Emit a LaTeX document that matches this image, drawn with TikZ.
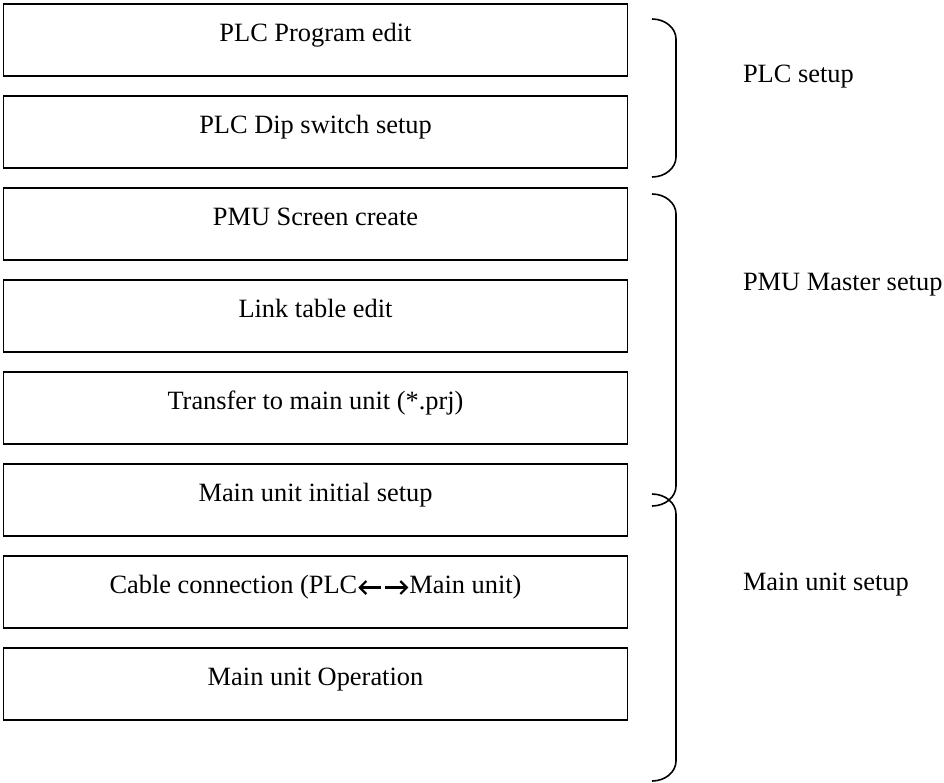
\documentclass[tikz,border=0pt]{standalone}
\usepackage{fontspec}
\setmainfont{Liberation Serif}
\newcommand\lrarrows{\tikz[baseline=0pt,x=1pt,y=1pt,line width=2.2pt]{%
  \useasboundingbox (0,0) rectangle (52,12);
  \draw (2.5,5.5) -- (24,5.5);
  \draw[miter limit=10] (9,12) -- (2.5,5.5) -- (9,-1);
  \draw (28,5.5) -- (49.5,5.5);
  \draw[miter limit=10] (43,12) -- (49.5,5.5) -- (43,-1);}}
\begin{document}
\begin{tikzpicture}[x=1pt,y=-1pt,
  stepbox/.style={draw, line width=1.6pt, minimum width=624pt, minimum height=72pt,
    inner sep=0pt, outer sep=0pt, anchor=north west, text height=18pt, text depth=16pt,
    font=\fontsize{26.4}{30}\selectfont},
  lbl/.style={anchor=base west, inner sep=0pt, outer sep=0pt, font=\fontsize{26.4}{30}\selectfont},
  bracepath/.style={line width=1.6pt}]
\useasboundingbox (0,0) rectangle (944,782);
\fill[white] (0,0) rectangle (944,782);
\node[stepbox] (b1) at (3.5,4)   {PLC Program edit};
\node[stepbox] (b2) at (3.5,96)  {PLC Dip switch setup};
\node[stepbox] (b3) at (3.5,188) {PMU Screen create};
\node[stepbox] (b4) at (3.5,280) {Link table edit};
\node[stepbox] (b5) at (3.5,372) {Transfer to main unit (*.prj)};
\node[stepbox] (b6) at (3.5,464) {Main unit initial setup};
\node[stepbox] (b7) at (3.5,556) {Cable connection (PLC\lrarrows Main unit)};
\node[stepbox] (b8) at (3.5,648) {Main unit Operation};
\node[lbl] (l1) at (743,82)  {PLC setup};
\node[lbl] (l2) at (743,290) {PMU Master setup};
\node[lbl] (l3) at (743,590) {Main unit setup};
\draw[bracepath] (652,19) .. controls (665.2,19) and (676,28) .. (676,39) -- (676,157)
  .. controls (676,168) and (665.2,177) .. (652,177);
\draw[bracepath] (652,194) .. controls (665.2,194) and (676,203) .. (676,214) -- (676,486)
  .. controls (676,497) and (665.2,506) .. (652,506);
\draw[bracepath] (652,494) .. controls (665.2,494) and (676,503) .. (676,514) -- (676,761)
  .. controls (676,772) and (665.2,781) .. (652,781);
\end{tikzpicture}
\end{document}
